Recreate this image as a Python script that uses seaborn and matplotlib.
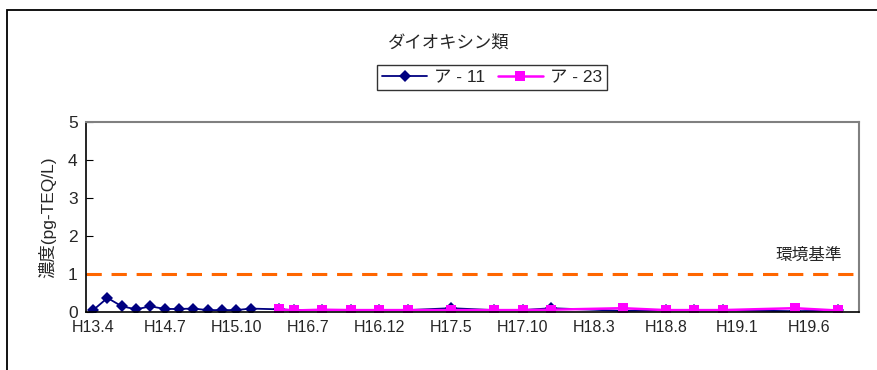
import numpy as np
import pandas as pd
import matplotlib
matplotlib.use("Agg")
import matplotlib.pyplot as plt
import matplotlib.patches as mpatches
from matplotlib.ticker import FixedLocator, MultipleLocator
import seaborn as sns

# Sampling slots along the category axis (54 sampling dates)
n_slots = 54
tick_pos = [0, 5, 10, 15, 20, 25, 30, 35, 40, 45, 50]
tick_labels = ["H13.4", "H14.7", "H15.10", "H16.7", "H16.12", "H17.5",
               "H17.10", "H18.3", "H18.8", "H19.1", "H19.6"]

# ア - 11 measurements
a11_idx = [0, 1, 2, 3, 4, 5, 6, 7, 8, 9, 10, 11,
           13, 14, 16, 18, 20, 22, 25, 28, 30, 32, 37, 40, 42, 44, 49, 52]
a11_val = [0.05, 0.37, 0.15, 0.07, 0.15, 0.08, 0.08, 0.09, 0.05, 0.05, 0.05, 0.09,
           0.07, 0.05, 0.05, 0.05, 0.05, 0.05, 0.10, 0.05, 0.05, 0.10, 0.03, 0.05, 0.05, 0.05, 0.02, 0.04]

# ア - 23 measurements
a23_idx = [13, 14, 16, 18, 20, 22, 25, 28, 30, 32, 37, 40, 42, 44, 49, 52]
a23_val = [0.07, 0.04, 0.06, 0.05, 0.05, 0.05, 0.05, 0.05, 0.05, 0.06, 0.10, 0.05, 0.05, 0.05, 0.10, 0.04]

env_standard = 1.0

series_names = ["ア - 11", "ア - 23"]
colors = {"ア - 11": "#000080", "ア - 23": "#FF00FF"}
markers = {"ア - 11": "D", "ア - 23": "s"}
msizes = {"ア - 11": 6.5, "ア - 23": 7.0}
lwidths = {"ア - 11": 1.3, "ア - 23": 1.8}

df = pd.concat([
    pd.DataFrame({"slot": a11_idx, "value": a11_val, "site": series_names[0]}),
    pd.DataFrame({"slot": a23_idx, "value": a23_val, "site": series_names[1]}),
], ignore_index=True)

sns.set_style("white")
fam = ["Liberation Sans", "Noto Sans CJK JP"]
plt.rcParams["font.family"] = fam

fig = plt.figure(figsize=(8.77, 3.70), dpi=100)
ax = fig.add_axes([86 / 877, 1 - 312 / 370, (859 - 86) / 877, (312 - 122) / 370])

for s in series_names:
    sns.lineplot(data=df[df["site"] == s], x="slot", y="value",
                 color=colors[s], marker=markers[s], markersize=msizes[s],
                 markeredgewidth=0, linewidth=lwidths[s],
                 sort=False, ax=ax, legend=False)

# Environmental standard line
ax.axhline(env_standard, color="#FF6600", linewidth=2.2,
           linestyle=(0, (5, 3.2)), zorder=1)
ax.text((842 - 86) / (859 - 86), (312 - 255) / (312 - 122), "環境基準",
        transform=ax.transAxes, fontsize=12, ha="right", va="center")

ax.set_xlim(-0.5, n_slots - 0.5)
ax.set_ylim(0, 5)
ax.xaxis.set_major_locator(FixedLocator(tick_pos))
ax.set_xticklabels(tick_labels, fontsize=11.5)
ax.xaxis.set_minor_locator(FixedLocator(np.arange(-0.5, n_slots, 1.0)))
ax.yaxis.set_major_locator(MultipleLocator(1))
ax.tick_params(axis="x", which="major", length=0, pad=6)
ax.tick_params(axis="x", which="minor", direction="in", length=4, width=0.8, color="black")
ax.tick_params(axis="y", direction="in", length=5, width=0.8, color="black",
               left=True, labelsize=12.5, pad=6)

ax.set_xlabel("")
ax.set_ylabel("濃度(pg-TEQ/L)", fontsize=12.5, labelpad=8)

for side in ["left", "bottom"]:
    ax.spines[side].set_color("black")
    ax.spines[side].set_linewidth(1.2)
for side in ["top", "right"]:
    ax.spines[side].set_visible(True)
    ax.spines[side].set_color("#808080")
    ax.spines[side].set_linewidth(1.5)

# Chart title and legend above the plot
fig.text(449 / 877, 1 - 42 / 370, "ダイオキシン類", fontsize=12.5, ha="center",
         va="center")
handles = [plt.Line2D([], [], color=colors[s], marker=markers[s], markersize=msizes[s],
                      markeredgewidth=0, linewidth=lwidths[s]) for s in series_names]
leg = fig.legend(handles, series_names, loc="center",
                 bbox_to_anchor=(492 / 877, 1 - 77.5 / 370), ncol=2,
                 frameon=True, fancybox=False, edgecolor="black",
                 prop={"size": 12.5}, handlelength=2.6,
                 columnspacing=0.7, handletextpad=0.4, borderpad=0.3)
leg.get_frame().set_linewidth(1.0)

# Outer chart frame
fig.patches.append(mpatches.Rectangle((7 / 877, -0.1), 1.2, 1 - 10 / 370 + 0.1,
                                      transform=fig.transFigure, fill=False,
                                      edgecolor="black", linewidth=1.3))

fig.savefig("out.png", dpi=100)
